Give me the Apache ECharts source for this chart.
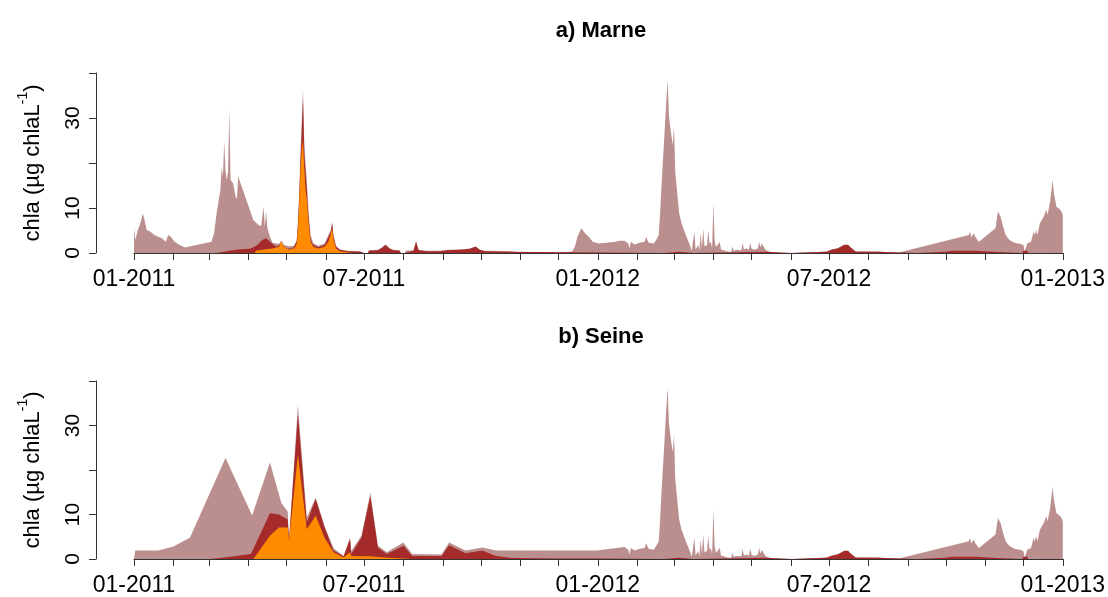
<!DOCTYPE html>
<html>
<head>
<meta charset="utf-8">
<title>chla – Marne / Seine</title>
<script src="https://cdn.jsdelivr.net/npm/echarts@6/dist/echarts.min.js"></script>
<style>
  html, body { margin: 0; padding: 0; background: #fff; }
  #chart { width: 1108px; height: 597px; }
</style>
</head>
<body>
<div id="chart"></div>
<script>
// ---- tick definitions ----
const xStart = '2011-01-01';
const xEnd = '2013-01-01';
const xLabelDates = ['2011-01-01', '2011-07-01', '2012-01-01', '2012-07-01', '2013-01-01'];
const yTicks = [0, 10, 20, 30, 40];
const yLabels = [0, 10, 30];
const panelTitles = ['a) Marne', 'b) Seine'];

// ---- Marne, 2011 ----
const marneTotal2011 = [
  ['2011-01-01', 5.7], ['2011-01-02', 2.9], ['2011-01-04', 5.1], ['2011-01-06', 6.6], ['2011-01-08', 8.8],
  ['2011-01-09', 7.7], ['2011-01-11', 5.1], ['2011-01-14', 4.7], ['2011-01-17', 4.0], ['2011-01-20', 3.6],
  ['2011-01-23', 3.3], ['2011-01-26', 2.5], ['2011-01-28', 4.0], ['2011-01-30', 3.6], ['2011-02-02', 2.5],
  ['2011-02-06', 1.8], ['2011-02-10', 1.2], ['2011-03-03', 2.5], ['2011-03-05', 4.4], ['2011-03-07', 8.8],
  ['2011-03-10', 14], ['2011-03-11', 19.2], ['2011-03-12', 17], ['2011-03-13', 24.7], ['2011-03-14', 18.4],
  ['2011-03-15', 16.2], ['2011-03-16', 18], ['2011-03-17', 31.9], ['2011-03-18', 16.2], ['2011-03-20', 15.5],
  ['2011-03-21', 15.9], ['2011-03-22', 12.5], ['2011-03-23', 12], ['2011-03-24', 17], ['2011-04-05', 7.3],
  ['2011-04-09', 6.2], ['2011-04-11', 6.0], ['2011-04-13', 10.3], ['2011-04-14', 5.8], ['2011-04-15', 9.2],
  ['2011-04-16', 5.5], ['2011-04-18', 3.6], ['2011-04-20', 2.3], ['2011-04-25', 2.0], ['2011-04-27', 2.8],
  ['2011-04-29', 1.8], ['2011-05-03', 1.5], ['2011-05-07', 1.6], ['2011-05-09', 2.8], ['2011-05-10', 7],
  ['2011-05-11', 13], ['2011-05-12', 22], ['2011-05-13', 29], ['2011-05-14', 36.5], ['2011-05-15', 25],
  ['2011-05-16', 20], ['2011-05-17', 16], ['2011-05-18', 11], ['2011-05-19', 7], ['2011-05-20', 4],
  ['2011-05-22', 2.2], ['2011-05-26', 1.6], ['2011-05-31', 2.1], ['2011-06-03', 4.0], ['2011-06-05', 5.2],
  ['2011-06-06', 7.0], ['2011-06-07', 4.0], ['2011-06-09', 1.6], ['2011-06-12', 0.8], ['2011-06-18', 0.5],
  ['2011-06-28', 0.4], ['2011-07-01', 0], ['2011-07-04', 0], ['2011-07-05', 0.6], ['2011-07-12', 0.7],
  ['2011-07-15', 1.2], ['2011-07-18', 1.9], ['2011-07-21', 1.1], ['2011-07-24', 0.7], ['2011-07-29', 0.6],
  ['2011-07-30', 0], ['2011-08-02', 0], ['2011-08-03', 0.5], ['2011-08-09', 0.6], ['2011-08-11', 2.6],
  ['2011-08-13', 0.7], ['2011-08-19', 0.5], ['2011-08-30', 0.5], ['2011-09-05', 0.7], ['2011-09-15', 0.8],
  ['2011-09-22', 1.0], ['2011-09-27', 1.5], ['2011-09-30', 0.8], ['2011-10-04', 0.5], ['2011-10-24', 0.4],
  ['2011-10-25', 0], ['2011-11-07', 0], ['2011-11-08', 0.15], ['2011-11-16', 0.15], ['2011-11-17', 0],
  ['2011-11-29', 0], ['2011-11-30', 0.2], ['2011-12-10', 0.3], ['2011-12-12', 0.4], ['2011-12-14', 1.4],
  ['2011-12-16', 3.6], ['2011-12-19', 5.5], ['2011-12-20', 5.1], ['2011-12-22', 4.4], ['2011-12-23', 4.7],
  ['2011-12-25', 3.6], ['2011-12-28', 2.5], ['2012-01-02', 2.1], ['2012-01-08', 2.3], ['2012-01-15', 2.5],
  ['2012-01-18', 2.7], ['2012-01-22', 2.7]
];
const marneBrown2011 = [
  ['2011-03-07', 0], ['2011-03-22', 0.7], ['2011-04-03', 1.0], ['2011-04-08', 1.8], ['2011-04-12', 2.9],
  ['2011-04-15', 3.3], ['2011-04-18', 2.5], ['2011-04-21', 1.8], ['2011-04-23', 1.4], ['2011-04-27', 2.1],
  ['2011-05-01', 1.0], ['2011-05-06', 1.0], ['2011-05-09', 2.5], ['2011-05-10', 6], ['2011-05-11', 12],
  ['2011-05-12', 20], ['2011-05-13', 27], ['2011-05-14', 34], ['2011-05-15', 22], ['2011-05-16', 18],
  ['2011-05-17', 14], ['2011-05-18', 9], ['2011-05-19', 6], ['2011-05-20', 3], ['2011-05-22', 1.8],
  ['2011-05-26', 1.3], ['2011-05-31', 1.8], ['2011-06-03', 3.5], ['2011-06-05', 4.8], ['2011-06-06', 6.6],
  ['2011-06-07', 3.6], ['2011-06-09', 1.4], ['2011-06-12', 0.7], ['2011-06-18', 0.4], ['2011-06-28', 0.3],
  ['2011-07-01', 0], ['2011-07-04', 0], ['2011-07-05', 0.5], ['2011-07-12', 0.6], ['2011-07-15', 1.1],
  ['2011-07-18', 1.8], ['2011-07-21', 1.0], ['2011-07-24', 0.6], ['2011-07-29', 0.5], ['2011-07-30', 0],
  ['2011-08-02', 0], ['2011-08-03', 0.4], ['2011-08-09', 0.5], ['2011-08-11', 2.5], ['2011-08-13', 0.6],
  ['2011-08-19', 0.4], ['2011-08-30', 0.4], ['2011-09-05', 0.6], ['2011-09-15', 0.7], ['2011-09-22', 0.9],
  ['2011-09-27', 1.4], ['2011-09-30', 0.7], ['2011-10-04', 0.4], ['2011-10-24', 0.3], ['2011-10-25', 0]
];
const marneOrange2011 = [
  ['2011-04-06', 0], ['2011-04-07', 0.5], ['2011-04-12', 0.7], ['2011-04-20', 1.0], ['2011-04-25', 1.4],
  ['2011-04-27', 2.5], ['2011-04-29', 1.4], ['2011-05-03', 0.7], ['2011-05-07', 1.0], ['2011-05-09', 2.0],
  ['2011-05-10', 5], ['2011-05-11', 11], ['2011-05-12', 18], ['2011-05-13', 23], ['2011-05-14', 25],
  ['2011-05-15', 19], ['2011-05-16', 14], ['2011-05-17', 12], ['2011-05-18', 8], ['2011-05-19', 5],
  ['2011-05-20', 2.5], ['2011-05-22', 1.4], ['2011-05-26', 1.0], ['2011-05-31', 1.4], ['2011-06-03', 2.5],
  ['2011-06-05', 4.4], ['2011-06-06', 5.5], ['2011-06-07', 3.0], ['2011-06-09', 1.0], ['2011-06-12', 0.4],
  ['2011-06-18', 0.1], ['2011-06-22', 0], ['2011-12-16', 0], ['2011-12-17', 0.2], ['2011-12-28', 0.2],
  ['2011-12-29', 0]
];

// ---- Seine, 2011 ----
const seineTotal2011 = [
  ['2011-01-01', 0], ['2011-01-02', 1.9], ['2011-01-20', 1.9], ['2011-02-01', 2.8], ['2011-02-14', 4.8],
  ['2011-03-14', 22.7], ['2011-04-04', 9.8], ['2011-04-18', 21.7], ['2011-04-27', 12.6], ['2011-05-02', 10.6],
  ['2011-05-03', 4.1], ['2011-05-10', 34.6], ['2011-05-17', 9.3], ['2011-05-24', 13.8], ['2011-05-31', 7.4],
  ['2011-06-07', 2.4], ['2011-06-15', 0.7], ['2011-06-20', 4.7], ['2011-06-21', 1.8], ['2011-06-29', 5.2],
  ['2011-07-06', 14.9], ['2011-07-12', 3.0], ['2011-07-19', 1.5], ['2011-08-01', 3.7], ['2011-08-08', 1.1],
  ['2011-08-31', 1.0], ['2011-09-06', 3.7], ['2011-09-19', 1.9], ['2011-10-02', 2.6], ['2011-10-13', 1.9],
  ['2011-12-31', 1.9], ['2012-01-22', 2.7]
];
const seineBrown2011 = [
  ['2011-03-02', 0], ['2011-03-15', 0.4], ['2011-04-03', 1.1], ['2011-04-18', 10.3], ['2011-04-25', 10.0],
  ['2011-05-02', 8.9], ['2011-05-03', 4.1], ['2011-05-10', 32.4], ['2011-05-17', 8.2], ['2011-05-24', 13.4],
  ['2011-05-31', 7.1], ['2011-06-07', 1.9], ['2011-06-15', 0.6], ['2011-06-20', 4.5], ['2011-06-21', 1.1],
  ['2011-06-29', 4.8], ['2011-07-06', 14.1], ['2011-07-12', 2.6], ['2011-07-19', 1.1], ['2011-08-01', 3.0],
  ['2011-08-08', 0.7], ['2011-08-31', 0.7], ['2011-09-06', 3.1], ['2011-09-19', 1.3], ['2011-10-02', 1.9],
  ['2011-10-13', 0.7], ['2011-10-26', 0.2], ['2011-12-04', 0.1], ['2012-01-01', 0.1], ['2012-01-02', 0]
];
const seineOrange2011 = [
  ['2011-04-05', 0], ['2011-04-18', 5.2], ['2011-04-25', 7.1], ['2011-05-02', 7.1], ['2011-05-03', 4.1],
  ['2011-05-10', 23.4], ['2011-05-17', 6.7], ['2011-05-24', 9.7], ['2011-05-31', 4.8], ['2011-06-07', 1.5],
  ['2011-06-15', 0.4], ['2011-06-20', 1.5], ['2011-06-21', 0.7], ['2011-06-29', 0.6], ['2011-07-06', 0.6],
  ['2011-07-19', 0.3], ['2011-08-01', 0.1], ['2011-08-08', 0]
];

// ---- 2012 record (identical at both stations) ----
const total2012 = [
  ['2012-01-25', 2.1], ['2012-01-26', 1.0], ['2012-01-27', 2.5], ['2012-01-30', 1.9], ['2012-02-03', 2.3],
  ['2012-02-07', 2.5], ['2012-02-08', 3.6], ['2012-02-10', 2.3], ['2012-02-14', 2.1], ['2012-02-16', 2.9],
  ['2012-02-17', 2.5], ['2012-02-18', 4.0], ['2012-02-19', 8.5], ['2012-02-20', 14], ['2012-02-21', 19.2],
  ['2012-02-22', 24], ['2012-02-23', 29], ['2012-02-24', 34], ['2012-02-25', 38.5], ['2012-02-26', 30.5],
  ['2012-02-27', 28], ['2012-02-28', 26], ['2012-02-29', 24], ['2012-03-01', 28], ['2012-03-02', 18],
  ['2012-03-03', 15], ['2012-03-04', 12], ['2012-03-05', 9], ['2012-03-07', 6.5], ['2012-03-09', 5.0],
  ['2012-03-11', 3.5], ['2012-03-13', 2.1], ['2012-03-15', 0.5], ['2012-03-17', 4.7], ['2012-03-18', 0.8],
  ['2012-03-20', 1.8], ['2012-03-21', 0.6], ['2012-03-22', 4.4], ['2012-03-23', 1.0], ['2012-03-24', 5.5],
  ['2012-03-25', 1.5], ['2012-03-27', 1.8], ['2012-03-28', 5.1], ['2012-03-29', 2.0], ['2012-03-30', 2.5],
  ['2012-03-31', 1.0], ['2012-04-01', 11], ['2012-04-02', 2.8], ['2012-04-03', 1.4], ['2012-04-05', 2.0],
  ['2012-04-06', 2.5], ['2012-04-07', 0.8], ['2012-04-08', 0.7], ['2012-04-13', 0.3], ['2012-04-15', 0.3],
  ['2012-04-16', 1.4], ['2012-04-17', 0.5], ['2012-04-19', 0.7], ['2012-04-23', 0.6], ['2012-04-24', 2.3],
  ['2012-04-25', 0.8], ['2012-04-27', 1.0], ['2012-04-29', 0.8], ['2012-04-30', 2.3], ['2012-05-01', 1.0],
  ['2012-05-03', 0.7], ['2012-05-06', 1.0], ['2012-05-07', 2.5], ['2012-05-08', 1.2], ['2012-05-09', 2.1],
  ['2012-05-10', 1.8], ['2012-05-12', 0.7], ['2012-05-14', 0.4], ['2012-05-18', 0.1], ['2012-05-19', 0],
  ['2012-06-02', 0], ['2012-06-03', 0.35], ['2012-06-29', 0.35], ['2012-07-03', 0.8], ['2012-07-08', 1.1],
  ['2012-07-13', 1.9], ['2012-07-16', 1.9], ['2012-07-18', 1.3], ['2012-07-22', 0.4], ['2012-08-09', 0.35],
  ['2012-08-10', 0], ['2012-08-15', 0.1], ['2012-08-25', 0.1], ['2012-08-26', 0], ['2012-10-19', 4.0],
  ['2012-10-20', 4.7], ['2012-10-21', 3.5], ['2012-10-23', 4.4], ['2012-10-24', 3.6], ['2012-10-27', 2.5],
  ['2012-11-09', 5.5], ['2012-11-11', 9.2], ['2012-11-13', 8.1], ['2012-11-15', 5.9], ['2012-11-17', 4.0],
  ['2012-11-20', 2.9], ['2012-11-24', 2.3], ['2012-11-29', 2.0], ['2012-12-01', 1.8], ['2012-12-02', 0.3],
  ['2012-12-04', 2.1], ['2012-12-07', 2.5], ['2012-12-09', 4.7], ['2012-12-10', 4.0], ['2012-12-11', 5.1],
  ['2012-12-12', 4.0], ['2012-12-14', 6.6], ['2012-12-17', 8.1], ['2012-12-19', 9.6], ['2012-12-20', 8.5],
  ['2012-12-21', 8.1], ['2012-12-22', 11.4], ['2012-12-23', 11.0], ['2012-12-24', 16.2], ['2012-12-25', 13.3],
  ['2012-12-27', 10.3], ['2012-12-28', 9.9], ['2012-12-29', 9.9], ['2012-12-30', 10.3], ['2012-12-31', 9.2],
  ['2013-01-01', 8.4]
];
const brown2012 = [
  ['2012-02-22', 0], ['2012-02-23', 0.3], ['2012-03-05', 0.3], ['2012-03-06', 0], ['2012-03-16', 0],
  ['2012-03-17', 0.3], ['2012-05-12', 0.3], ['2012-05-13', 0], ['2012-06-02', 0], ['2012-06-03', 0.3],
  ['2012-06-29', 0.3], ['2012-07-03', 0.7], ['2012-07-08', 1.0], ['2012-07-13', 1.8], ['2012-07-16', 1.8],
  ['2012-07-18', 1.2], ['2012-07-22', 0.3], ['2012-08-09', 0.3], ['2012-08-10', 0], ['2012-09-08', 0],
  ['2012-09-09', 0.2], ['2012-10-01', 0.3], ['2012-10-05', 0.5], ['2012-10-24', 0.5], ['2012-10-25', 0.2],
  ['2012-11-10', 0.2], ['2012-11-11', 0], ['2012-11-30', 0], ['2012-12-01', 0.5], ['2012-12-04', 0.5],
  ['2012-12-05', 0], ['2012-12-17', 0], ['2012-12-18', 0.2], ['2013-01-01', 0.2]
];

const COLORS = { total: '#BC8F8F', brown: '#A52A2A', orange: '#FF8C00' };
const FONT = 'Liberation Sans, Arial, Helvetica, sans-serif';

// date string -> local timestamp, used for both data and tick positions
function ts(s) { const p = s.split('-').map(Number); return new Date(p[0], p[1] - 1, p[2]).getTime(); }
function toPoints(arr) { return arr.map(d => [ts(d[0]), d[1]]); }

const panels = [
  { total: marneTotal2011.concat(total2012), brown: marneBrown2011.concat(brown2012), orange: marneOrange2011 },
  { total: seineTotal2011.concat(total2012), brown: seineBrown2011.concat(brown2012), orange: seineOrange2011 }
];

// monthly tick positions between the axis ends
const monthTicks = [];
for (let d = new Date(2011, 0, 1); d.getTime() <= ts(xEnd); d = new Date(d.getFullYear(), d.getMonth() + 1, 1)) {
  monthTicks.push(d.getTime());
}
const labelTicks = xLabelDates.map(ts);
function monthLabel(v) {
  const d = new Date(v);
  return String(d.getMonth() + 1).padStart(2, '0') + '-' + d.getFullYear();
}

const grids = [
  { left: 134, right: 44, top: 73, height: 180 },
  { left: 134, right: 44, top: 381, height: 179 }
];

const option = {
  animation: false,
  backgroundColor: '#fff',
  textStyle: { fontFamily: FONT },
  title: panelTitles.map((t, i) => ({
    text: t,
    left: 596,
    textAlign: 'center',
    top: i === 0 ? 15 : 321,
    textStyle: { fontFamily: FONT, fontSize: 22, fontWeight: 'bold', color: '#000' }
  })),
  grid: grids,
  xAxis: grids.map((g, i) => ({
    type: 'value',
    gridIndex: i,
    min: ts(xStart),
    max: ts(xEnd),
    offset: 7,
    axisLine: { show: true, lineStyle: { color: '#333', width: 1 } },
    axisTick: { show: true, customValues: monthTicks, length: 7, lineStyle: { color: '#333', width: 1 } },
    axisLabel: {
      show: true, customValues: labelTicks, formatter: monthLabel,
      fontFamily: FONT, fontSize: 23, color: '#000', margin: 8, hideOverlap: false
    },
    splitLine: { show: false }
  })),
  yAxis: grids.map((g, i) => ({
    type: 'value',
    gridIndex: i,
    min: 0, max: 40, interval: 10,
    offset: 38,
    axisLine: { show: true, lineStyle: { color: '#333', width: 1 } },
    axisTick: { show: true, customValues: yTicks, length: 7, lineStyle: { color: '#333', width: 1 } },
    axisLabel: {
      customValues: yLabels, rotate: 90, fontFamily: FONT, fontSize: 21, color: '#000', margin: 12
    },
    splitLine: { show: false },
    name: '{m|chla (µg chlaL}{s|-1}{m|)}',
    nameLocation: 'middle',
    nameGap: 52,
    nameRotate: 90,
    nameTextStyle: {
      color: '#000',
      rich: {
        m: { fontFamily: FONT, fontSize: 22, color: '#000', lineHeight: 28, verticalAlign: 'bottom' },
        s: { fontFamily: FONT, fontSize: 14, color: '#000', lineHeight: 28, verticalAlign: 'top' }
      }
    }
  })),
  series: []
};

panels.forEach((p, i) => {
  ['total', 'brown', 'orange'].forEach(key => {
    option.series.push({
      type: 'line',
      xAxisIndex: i,
      yAxisIndex: i,
      data: toPoints(p[key]),
      showSymbol: false,
      symbol: 'none',
      smooth: false,
      lineStyle: { width: 0, opacity: 0 },
      areaStyle: { color: COLORS[key], opacity: 1 },
      silent: true,
      z: 2
    });
  });
});

const chart = echarts.init(document.getElementById('chart'), null, { renderer: 'canvas' });
chart.setOption(option);
</script>
</body>
</html>
